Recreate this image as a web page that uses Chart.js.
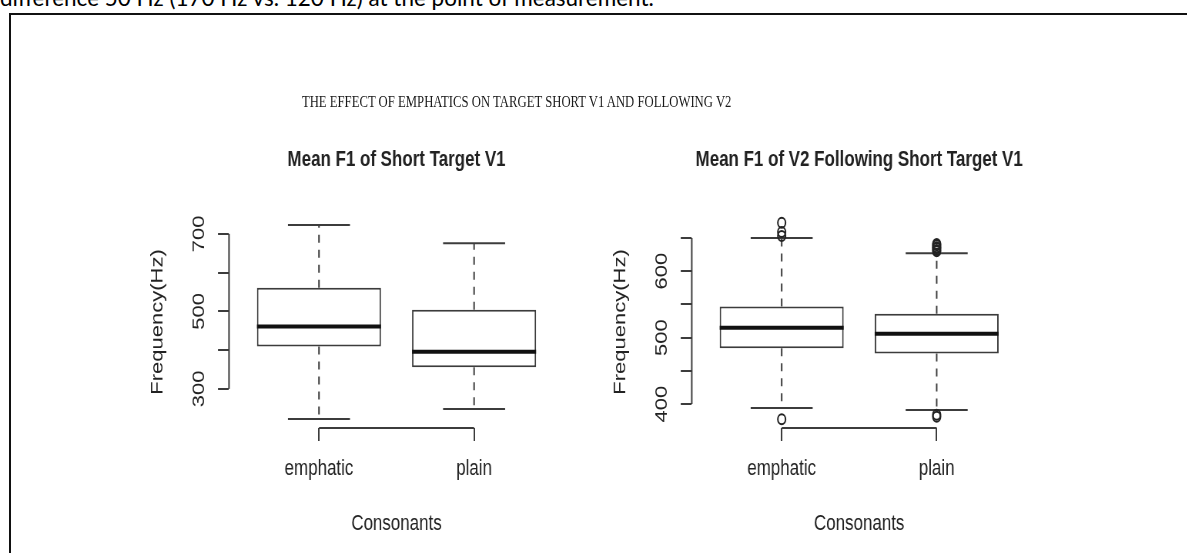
<!DOCTYPE html>
<html>
<head>
<meta charset="utf-8">
<script src="https://cdn.jsdelivr.net/npm/chart.js@4.4.1/dist/chart.umd.min.js"></script>
<style>
  html, body { margin: 0; padding: 0; background: #fff; width: 1187px; height: 553px; overflow: hidden; }
  #lead { position: absolute; left: 0; top: -11px; font-family: Lato, 'Open Sans', sans-serif; font-size: 20px; line-height: 20px; color: #000; white-space: nowrap; }
  #frame { position: absolute; left: 9px; top: 13px; width: 1300px; height: 700px; border-left: 2px solid #111; border-top: 2px solid #111; }
  /* the figure is laid out wide, then narrowed as a whole */
  #stage { position: absolute; left: 0; top: 0; width: 1542px; height: 553px; transform: scaleX(0.77); transform-origin: 0 0; filter: blur(0.45px); }
  #stage canvas { position: absolute; top: 0; }
  #leftPanel { left: 0; }
  #rightPanel { left: 780px; }
  #mainTitle { position: absolute; left: 671px; top: 94px; transform: translateX(-50%); font-family: 'Liberation Serif', 'Times New Roman', serif; font-size: 16.5px; line-height: 1; color: #1a1a1a; white-space: nowrap; }
</style>
</head>
<body>
<div id="lead">difference 50 Hz (170 Hz vs. 120 Hz) at the point of measurement.</div>
<div id="frame"></div>
<div id="stage">
  <div id="mainTitle">THE EFFECT OF EMPHATICS ON TARGET SHORT V1 AND FOLLOWING V2</div>
  <canvas id="leftPanel" width="780" height="553"></canvas>
  <canvas id="rightPanel" width="762" height="553"></canvas>
</div>
<script>
const categories = ['emphatic', 'plain'];

// Mean F1 of the short target vowel V1 (Hz)
const v1Lower  = [222, 248];
const v1Q1     = [409, 356];
const v1Median = [461, 396];
const v1Q3     = [561, 504];
const v1Upper  = [723, 676];

// Mean F1 of V2 following the short target V1 (Hz)
const v2Lower  = [394, 391];
const v2Q1     = [484, 476];
const v2Median = [515, 506];
const v2Q3     = [547, 536];
const v2Upper  = [650, 627];
const v2OutliersEmphatic = [377, 653, 659, 673];
const v2OutliersPlain    = [381, 384, 630, 632, 635, 636, 639, 641];

// y-axis ticks; R leaves every other label out where they would collide
const v1TickValues = [300, 400, 500, 600, 700];
const v1TickLabels = ['300', '', '500', '', '700'];
const v2TickValues = [400, 450, 500, 550, 600, 650];
const v2TickLabels = ['400', '', '500', '', '600', ''];

const INK = '#222';
const LINE = '#3c3c3c';
Chart.defaults.font.family = "'Liberation Sans', Arial, Helvetica, sans-serif";
Chart.defaults.font.size = 22;
Chart.defaults.color = INK;

function seg(ctx, x1, y1, x2, y2) {
  ctx.beginPath();
  ctx.moveTo(x1, y1);
  ctx.lineTo(x2, y2);
  ctx.stroke();
}

// R-style axis lines, whiskers, staples and medians on top of the floating bars
const rBoxplot = {
  id: 'rBoxplot',
  beforeDatasetsDraw(chart) {
    const { ctx, chartArea, scales: { x, y } } = chart;
    const ds = chart.data.datasets[0];
    const s = ds.stats;
    const meta = chart.getDatasetMeta(0);
    ctx.save();
    ctx.strokeStyle = LINE;
    ctx.lineWidth = 2;
    const yt = y.ticks, xt = x.ticks;
    seg(ctx, chartArea.left, y.getPixelForValue(yt[0].value), chartArea.left, y.getPixelForValue(yt[yt.length - 1].value));
    seg(ctx, x.getPixelForValue(xt[0].value), chartArea.bottom, x.getPixelForValue(xt[xt.length - 1].value), chartArea.bottom);
    meta.data.forEach((bar, i) => {
      const { x: cx, width } = bar.getProps(['x', 'width'], true);
      const yLo = y.getPixelForValue(s.lower[i]);
      const yQ1 = y.getPixelForValue(s.q1[i]);
      const yQ3 = y.getPixelForValue(s.q3[i]);
      const yHi = y.getPixelForValue(s.upper[i]);
      ctx.setLineDash([8, 7]);
      seg(ctx, cx, yQ3, cx, yHi);
      seg(ctx, cx, yQ1, cx, yLo);
      ctx.setLineDash([]);
      seg(ctx, cx - width / 4, yHi, cx + width / 4, yHi);
      seg(ctx, cx - width / 4, yLo, cx + width / 4, yLo);
    });
    ctx.restore();
  },
  afterDatasetsDraw(chart) {
    const { ctx, scales: { y } } = chart;
    const s = chart.data.datasets[0].stats;
    const meta = chart.getDatasetMeta(0);
    ctx.save();
    ctx.strokeStyle = '#111';
    ctx.lineWidth = 4;
    meta.data.forEach((bar, i) => {
      const { x: cx, width } = bar.getProps(['x', 'width'], true);
      const ym = y.getPixelForValue(s.median[i]);
      seg(ctx, cx - width / 2, ym, cx + width / 2, ym);
    });
    ctx.restore();
  }
};

function makePanel(id, cfg) {
  const datasets = [{
    type: 'bar',
    data: categories.map((c, i) => ({ x: i + 1, y: [cfg.q1[i], cfg.q3[i]] })),
    stats: { lower: cfg.lower, q1: cfg.q1, median: cfg.median, q3: cfg.q3, upper: cfg.upper },
    backgroundColor: '#fff',
    borderColor: LINE,
    borderWidth: 2,
    borderSkipped: false,
    categoryPercentage: 1,
    barPercentage: 0.8
  }];
  if (cfg.outliers) {
    datasets.push({
      type: 'scatter',
      data: cfg.outliers,
      pointStyle: 'circle',
      radius: 5,
      borderWidth: 2,
      borderColor: '#222',
      backgroundColor: 'rgba(0,0,0,0)'
    });
  }
  return new Chart(document.getElementById(id), {
    type: 'bar',
    data: { datasets },
    options: {
      responsive: false,
      animation: false,
      events: [],
      layout: { padding: cfg.padding },
      plugins: {
        legend: { display: false },
        tooltip: { enabled: false },
        title: {
          display: true,
          text: cfg.title,
          fullSize: false,
          color: INK,
          font: { size: 22, weight: 'bold' },
          padding: { top: 0, bottom: 43.3 }
        }
      },
      scales: {
        x: {
          type: 'linear',
          min: 0.42,
          max: 2.58,
          offset: false,
          bounds: 'data',
          afterBuildTicks: (sc) => { sc.ticks = categories.map((c, i) => ({ value: i + 1 })); },
          afterFit: (sc) => { sc.height = 109.6; },
          border: { display: false },
          grid: { drawOnChartArea: false, drawTicks: true, tickLength: 13, color: LINE, lineWidth: 2, offset: false },
          ticks: { autoSkip: false, maxRotation: 0, padding: 14.8, color: INK, callback: (v, i) => categories[i] },
          title: { display: true, text: 'Consonants', color: INK, padding: { top: 0, bottom: 0 } }
        },
        y: {
          type: 'linear',
          min: cfg.yMin,
          max: cfg.yMax,
          beginAtZero: false,
          bounds: 'data',
          afterBuildTicks: (sc) => { sc.ticks = cfg.tickValues.map(v => ({ value: v })); },
          afterFit: (sc) => { sc.width = 105.4; },
          border: { display: false },
          grid: { drawOnChartArea: false, drawTicks: true, tickLength: 14.3, color: LINE, lineWidth: 2 },
          ticks: { autoSkip: false, minRotation: 90, maxRotation: 90, crossAlign: 'center', padding: 6.3, color: INK, callback: (v, i) => cfg.tickLabels[i] },
          title: { display: true, text: 'Frequency(Hz)', color: INK, padding: { top: 0, bottom: 0 } }
        }
      }
    },
    plugins: [rBoxplot]
  });
}

makePanel('leftPanel', {
  title: 'Mean F1 of Short Target V1',
  lower: v1Lower, q1: v1Q1, median: v1Median, q3: v1Q3, upper: v1Upper,
  yMin: 199, yMax: 746,
  tickValues: v1TickValues, tickLabels: v1TickLabels,
  padding: { left: 192, right: 47.5, top: 146.3, bottom: 15.4 }
});

makePanel('rightPanel', {
  title: 'Mean F1 of V2 Following Short Target V1',
  lower: v2Lower, q1: v2Q1, median: v2Median, q3: v2Q3, upper: v2Upper,
  outliers: [
    ...v2OutliersEmphatic.map(v => ({ x: 1, y: v })),
    ...v2OutliersPlain.map(v => ({ x: 2, y: v }))
  ],
  yMin: 364, yMax: 683,
  tickValues: v2TickValues, tickLabels: v2TickLabels,
  padding: { left: 13, right: 208.8, top: 146.3, bottom: 15.4 }
});

// size the running text line so it spans the same width as the page text
(function fitLead() {
  const el = document.getElementById('lead');
  const m = document.createElement('canvas').getContext('2d');
  m.font = '20px Lato, "Open Sans", sans-serif';
  const w = m.measureText(el.textContent).width;
  const size = 20 * 655 / w;
  el.style.fontSize = size.toFixed(2) + 'px';
  el.style.lineHeight = size.toFixed(2) + 'px';
  el.style.top = (7 - 0.887 * size).toFixed(1) + 'px';
})();
</script>
</body>
</html>
